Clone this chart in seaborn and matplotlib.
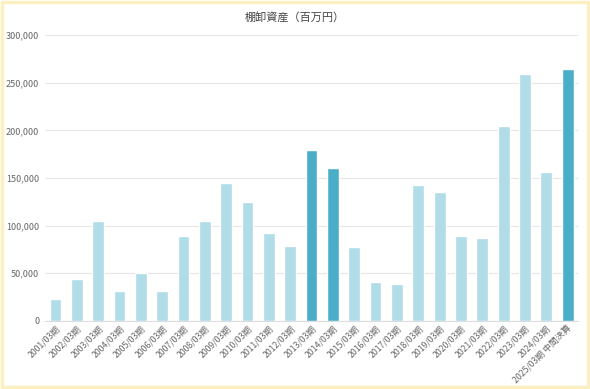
import matplotlib
matplotlib.use("Agg")
import matplotlib.pyplot as plt
import seaborn as sns
import pandas as pd
from matplotlib.patches import Rectangle

# データ
periods = [
    "2001/03期", "2002/03期", "2003/03期", "2004/03期", "2005/03期",
    "2006/03期", "2007/03期", "2008/03期", "2009/03期", "2010/03期",
    "2011/03期", "2012/03期", "2013/03期", "2014/03期", "2015/03期",
    "2016/03期", "2017/03期", "2018/03期", "2019/03期", "2020/03期",
    "2021/03期", "2022/03期", "2023/03期", "2024/03期", "2025/03期 中間決算",
]
inventory = [
    23000, 44000, 105000, 31500, 50000,
    31000, 89000, 105000, 145000, 125000,
    92000, 78500, 179000, 160500, 77500,
    41000, 39000, 142500, 135000, 89000,
    87000, 204500, 259000, 156000, 264000,
]
highlight = ["2013/03期", "2014/03期", "2025/03期 中間決算"]

df = pd.DataFrame({"period": periods, "value": inventory})
light = "#b0dde8"
dark = "#4aaec9"
palette = [dark if p in highlight else light for p in periods]

sns.set_style("white")
plt.rcParams["font.family"] = ["Noto Sans CJK JP", "DejaVu Sans"]

fig = plt.figure(figsize=(5.9, 3.89), dpi=100)
ax = fig.add_axes([0.076, 0.175, 0.904, 0.735])

sns.barplot(data=df, x="period", y="value", hue="period", palette=palette,
            legend=False, width=0.56, saturation=1, ax=ax, zorder=3)

ax.set_ylim(0, 300000)
ax.set_xlim(-0.5, len(periods) - 0.5)
ax.set_yticks(range(0, 300001, 50000))
ax.set_yticklabels([f"{v:,}" for v in range(0, 300001, 50000)])
ax.yaxis.grid(True, color="#e6e6e6", linewidth=0.8, zorder=0)
ax.set_xlabel("")
ax.set_ylabel("")
ax.tick_params(axis="y", length=0, labelsize=6.5, colors="#666666", pad=4)
ax.tick_params(axis="x", length=0, labelsize=6.3, colors="#666666", pad=2)
plt.setp(ax.get_xticklabels(), rotation=45, ha="right", rotation_mode="anchor")
for side in ["left", "right", "top"]:
    ax.spines[side].set_visible(False)
ax.spines["bottom"].set_color("#dddddd")

fig.text(0.5, 0.955, "棚卸資産（百万円）", ha="center", va="center",
         fontsize=8, color="#444444")

# 外枠
fig.patches.append(Rectangle((0.004, 0.006), 0.992, 0.988, transform=fig.transFigure,
                             fill=False, edgecolor="#fcefc2", linewidth=2.5))

fig.savefig("out.png", dpi=100)
